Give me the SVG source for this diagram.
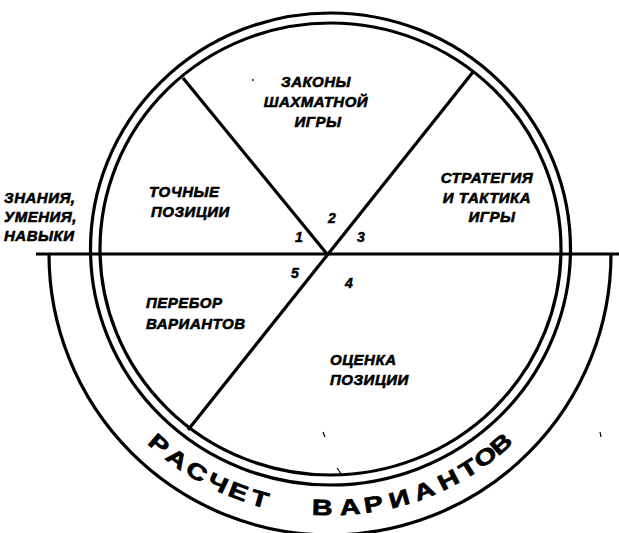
<svg xmlns="http://www.w3.org/2000/svg" width="619" height="533" viewBox="0 0 619 533">
<style>
.ln{fill:none;stroke:#000;stroke-width:3.2;stroke-linecap:butt}
.lb{font-family:"Liberation Sans",Arial,sans-serif;font-weight:bold;font-style:italic;font-size:15px;letter-spacing:0.5px;fill:#000;stroke:#000;stroke-width:0.6}
.num{font-family:"Liberation Sans",Arial,sans-serif;font-weight:bold;font-style:italic;font-size:14px;fill:#000;stroke:#000;stroke-width:0.5}
.arc{font-family:"Liberation Sans",Arial,sans-serif;font-weight:bold;font-size:22px;fill:#000;stroke:#000;stroke-width:0.7;text-anchor:middle}
</style>
<rect width="619" height="533" fill="#fff"/>
<g id="connectors">
<ellipse class="ln" cx="330.5" cy="249" rx="240" ry="236"/>
<ellipse class="ln" cx="330.5" cy="249" rx="230.5" ry="226"/>
<path class="ln" d="M 49 254 A 281 281 0 0 0 611 254" stroke-width="2.8"/>
<line class="ln" x1="36" y1="254" x2="619" y2="254" stroke-width="3.6"/>
<line class="ln" x1="183" y1="78" x2="327" y2="254"/>
<line class="ln" x1="473" y1="72" x2="188" y2="430"/>
<line x1="323" y1="432" x2="325" y2="437" stroke="#000" stroke-width="1.2"/>
<line x1="337" y1="468" x2="342" y2="475" stroke="#000" stroke-width="1.2"/>
<line x1="600" y1="432" x2="601" y2="437" stroke="#000" stroke-width="1.2"/>
<circle cx="253" cy="80" r="0.9" fill="#000"/>
</g>
<g id="laws">
<text class="lb" text-anchor="middle"><tspan x="316" y="87">ЗАКОНЫ</tspan><tspan x="316" y="107">ШАХМАТНОЙ</tspan><tspan x="318" y="127">ИГРЫ</tspan></text>
</g>
<g id="exact">
<text class="lb"><tspan x="149" y="197">ТОЧНЫЕ</tspan><tspan x="151" y="217">ПОЗИЦИИ</tspan></text>
</g>
<g id="strategy">
<text class="lb" text-anchor="middle"><tspan x="487" y="183">СТРАТЕГИЯ</tspan><tspan x="487" y="203">И ТАКТИКА</tspan><tspan x="492" y="222">ИГРЫ</tspan></text>
</g>
<g id="knowledge">
<text class="lb"><tspan x="4" y="203">ЗНАНИЯ,</tspan><tspan x="4" y="222">УМЕНИЯ,</tspan><tspan x="4" y="241">НАВЫКИ</tspan></text>
</g>
<g id="enumeration">
<text class="lb"><tspan x="146" y="308">ПЕРЕБОР</tspan><tspan x="146" y="329">ВАРИАНТОВ</tspan></text>
</g>
<g id="evaluation">
<text class="lb"><tspan x="330" y="365">ОЦЕНКА</tspan><tspan x="330" y="385">ПОЗИЦИИ</tspan></text>
</g>
<g id="numbers">
<text class="num" x="295" y="242">1</text>
<text class="num" x="328" y="223">2</text>
<text class="num" x="357" y="242">3</text>
<text class="num" x="345" y="288">4</text>
<text class="num" x="291" y="278">5</text>
</g>
<g id="calculation">
<text class="arc" y="8" transform="translate(159.3 443.8) rotate(41.2) scale(1.3 1)">Р</text>
<text class="arc" y="8" transform="translate(177.4 458.3) rotate(36.1) scale(1.3 1)">А</text>
<text class="arc" y="8" transform="translate(196.9 471.2) rotate(30.9) scale(1.3 1)">С</text>
<text class="arc" y="8" transform="translate(218.1 482.6) rotate(25.6) scale(1.3 1)">Ч</text>
<text class="arc" y="8" transform="translate(238.6 491.2) rotate(20.7) scale(1.3 1)">Е</text>
<text class="arc" y="8" transform="translate(259.8 498.4) rotate(15.7) scale(1.3 1)">Т</text>
<text class="arc" y="8" transform="translate(322.2 507) rotate(1.7) scale(1.3 1)">В</text>
<text class="arc" y="8" transform="translate(349.9 506.4) rotate(-4.4) scale(1.3 1)">А</text>
<text class="arc" y="8" transform="translate(373.3 503.8) rotate(-9.6) scale(1.3 1)">Р</text>
<text class="arc" y="8" transform="translate(398.9 498.3) rotate(-15.4) scale(1.3 1)">И</text>
<text class="arc" y="8" transform="translate(424 490.2) rotate(-21.3) scale(1.3 1)">А</text>
<text class="arc" y="8" transform="translate(448.1 479.5) rotate(-27.1) scale(1.3 1)">Н</text>
<text class="arc" y="8" transform="translate(468 468.1) rotate(-32.2) scale(1.3 1)">Т</text>
<text class="arc" y="8" transform="translate(485.1 456.5) rotate(-36.8) scale(1.3 1)">О</text>
<text class="arc" y="8" transform="translate(500.7 443.8) rotate(-41.2) scale(1.3 1)">В</text>
</g>
</svg>
